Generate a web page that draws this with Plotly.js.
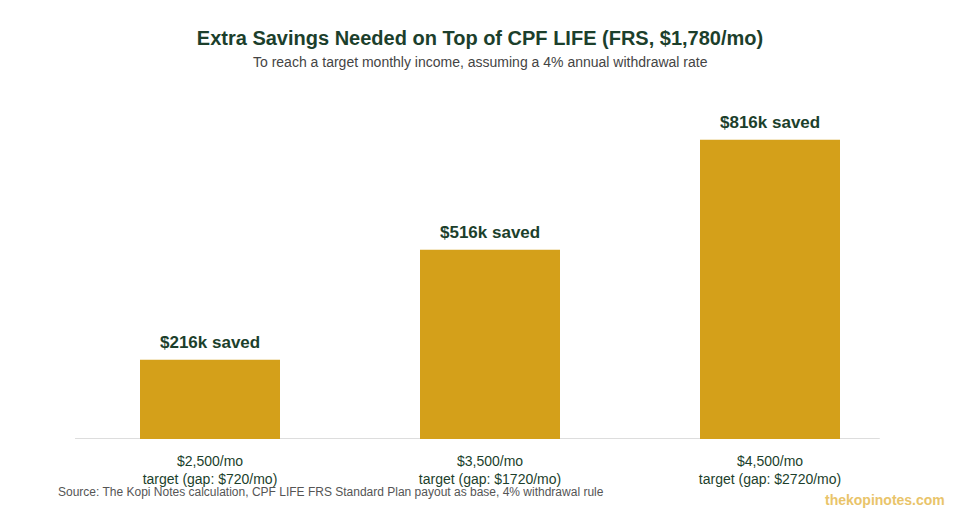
<!DOCTYPE html>
<html>
<head>
<meta charset="utf-8">
<script src="https://cdn.plot.ly/plotly-3.0.1.min.js"></script>
<style>
	html, body { margin: 0; padding: 0; background: #ffffff; }
	#chart { width: 960px; height: 520px; }
</style>
</head>
<body>
<div id="chart"></div>
<script>
'use strict';

const targets = ['$2,500/mo', '$3,500/mo', '$4,500/mo'];
const gaps = ['$720/mo', '$1720/mo', '$2720/mo'];
const savedK = [216, 516, 816];

const green = '#1c3f2c';
const gold = '#d4a01a';
const font = 'Liberation Sans, Arial, Helvetica, sans-serif';

const xVals = [0, 1, 2];
const tickText = targets.map(function(t, i) {
	return t + '<br>target (gap: ' + gaps[i] + ')';
});

const trace = {
	type: 'bar',
	x: xVals,
	y: savedK,
	width: 0.5,
	marker: { color: gold },
	hoverinfo: 'skip'
};

const labels = savedK.map(function(v, i) {
	return {
		x: xVals[i],
		y: v,
		xref: 'x',
		yref: 'y',
		text: '<b>$' + v + 'k saved</b>',
		showarrow: false,
		yanchor: 'bottom',
		yshift: 6,
		font: { family: font, size: 17, color: green }
	};
});

const layout = {
	width: 960,
	height: 520,
	margin: { l: 70, r: 50, t: 100, b: 81 },
	paper_bgcolor: '#ffffff',
	plot_bgcolor: '#ffffff',
	showlegend: false,
	title: {
		text: '<b>Extra Savings Needed on Top of CPF LIFE (FRS, $1,780/mo)</b>',
		x: 0.5,
		xanchor: 'center',
		y: 1 - 38 / 520,
		yanchor: 'middle',
		font: { family: font, size: 20, color: green }
	},
	xaxis: {
		range: [-0.5, 2.5],
		tickvals: xVals,
		ticktext: tickText,
		showgrid: false,
		zeroline: false,
		showline: false,
		ticks: '',
		ticklabelstandoff: 12,
		tickfont: { family: font, size: 14, color: green },
		fixedrange: true
	},
	yaxis: {
		range: [0, 924.5],
		visible: false,
		showgrid: false,
		zeroline: false,
		fixedrange: true
	},
	shapes: [{
		type: 'line',
		xref: 'paper',
		yref: 'y',
		x0: 0.006,
		x1: 0.964,
		y0: 0,
		y1: 0,
		line: { color: '#dddddd', width: 2 },
		layer: 'below'
	}],
	annotations: labels.concat([
		{
			text: 'To reach a target monthly income, assuming a 4% annual withdrawal rate',
			xref: 'paper', yref: 'paper',
			x: (480 - 70) / 840, xanchor: 'center',
			y: 1 + (100 - 62) / 339, yanchor: 'middle',
			showarrow: false,
			font: { family: font, size: 14, color: '#444444' }
		},
		{
			text: 'Source: The Kopi Notes calculation, CPF LIFE FRS Standard Plan payout as base, 4% withdrawal rule',
			xref: 'paper', yref: 'paper',
			x: (56 - 70) / 840, xanchor: 'left',
			y: -(492 - 439) / 339, yanchor: 'middle',
			showarrow: false,
			font: { family: font, size: 12, color: '#555555' }
		},
		{
			text: '<b>thekopinotes.com</b>',
			xref: 'paper', yref: 'paper',
			x: (947 - 70) / 840, xanchor: 'right',
			y: -(500 - 439) / 339, yanchor: 'middle',
			showarrow: false,
			font: { family: font, size: 14, color: '#e9c46a' }
		}
	])
};

Plotly.newPlot('chart', [trace], layout, { displayModeBar: false, staticPlot: true });
</script>
</body>
</html>
